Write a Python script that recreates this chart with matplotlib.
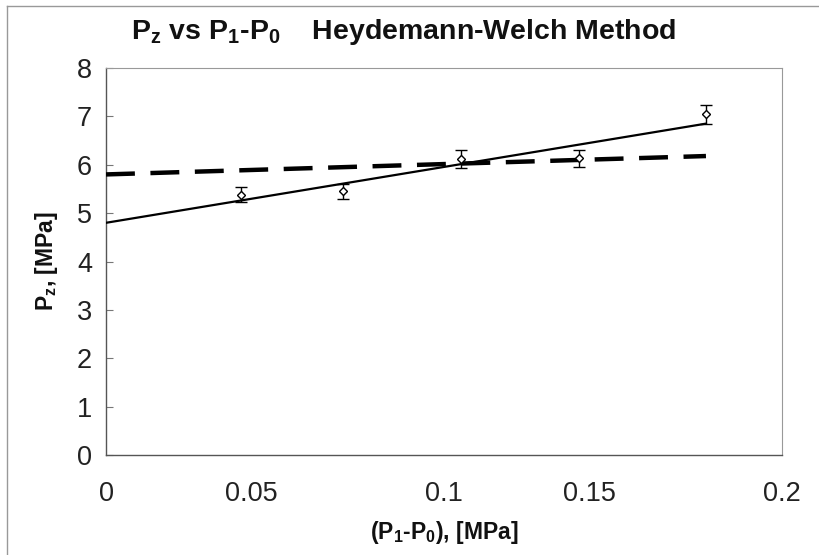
import numpy as np
import matplotlib
matplotlib.use('Agg')
import matplotlib.pyplot as plt
from matplotlib.lines import Line2D
from matplotlib.transforms import ScaledTranslation

plt.rcParams['font.family'] = ['Liberation Sans', 'DejaVu Sans']
plt.rcParams['mathtext.default'] = 'regular'

# measured points
dp = [0.040, 0.070, 0.105, 0.140, 0.1775]
pz = [5.38, 5.45, 6.12, 6.13, 7.04]
pz_err = [0.16, 0.16, 0.18, 0.18, 0.20]

# fitted lines (end points)
fit_x = [0.0, 0.1775]
fit_solid = [4.80, 6.85]
fit_dashed = [5.80, 6.18]

xticks = [0, 0.05, 0.1, 0.15, 0.2]
xticklabels = ['0', '0.05', '0.1', '0.15', '0.2']
yticks = [0, 1, 2, 3, 4, 5, 6, 7, 8]

fig = plt.figure(figsize=(8.19, 5.55), dpi=100)
ax = fig.add_axes([106 / 819, 1 - 455 / 555, 676 / 819, 387 / 555])

ax.plot(fit_x, fit_solid, color='black', lw=1.6, zorder=3)
ax.plot(fit_x, fit_dashed, color='black', lw=3.2, dashes=(6.5, 3.5), zorder=3)
ax.errorbar(dp, pz, yerr=pz_err, fmt='D', ms=4, mfc='white', mec='black',
            mew=1.0, ecolor='black', elinewidth=1.0, capsize=4, capthick=1.0,
            zorder=4)

ax.set_xlim(0, 0.2)
ax.set_ylim(0, 8)
ax.set_xticks(xticks)
ax.set_xticklabels(xticklabels)
ax.set_yticks(yticks)
ax.tick_params(axis='x', length=0, pad=19, labelsize=19.5, colors='#222222')
ax.tick_params(axis='y', direction='in', length=5, width=0.8, color='#777777',
               pad=10, labelsize=19.5, labelcolor='#222222')

# the scanned original has the 0.05 / 0.15 labels sitting left of their ticks
for lab in ax.get_xticklabels():
    if lab.get_text() in ('0.05', '0.15'):
        lab.set_transform(lab.get_transform() +
                          ScaledTranslation(-0.24, 0, fig.dpi_scale_trans))

for side in ['left', 'bottom']:
    ax.spines[side].set_color('#555555')
    ax.spines[side].set_linewidth(1.0)
for side in ['top', 'right']:
    ax.spines[side].set_color('#999999')
    ax.spines[side].set_linewidth(0.8)
    ax.spines[side].set_linestyle((0, (3, 1)))

fig.text(404 / 819, 1 - 32 / 555,
         r'P$_z$ vs P$_1$-P$_0$    Heydemann-Welch Method',
         fontsize=20.5, fontweight='bold', color='#111111',
         ha='center', va='center')
ax.set_xlabel(r'(P$_1$-P$_0$), [MPa]', fontsize=16.5, fontweight='bold',
              labelpad=8, color='#111111')
ax.set_ylabel(r'P$_z$, [MPa]', fontsize=16.5, fontweight='bold',
              labelpad=12, color='#111111')

# outer chart border (top and left visible)
fig.add_artist(Line2D([7 / 819, 1.0], [1 - 6 / 555, 1 - 6 / 555],
                      transform=fig.transFigure, color='#999999', lw=1.0))
fig.add_artist(Line2D([7 / 819, 7 / 819], [0.0, 1 - 6 / 555],
                      transform=fig.transFigure, color='#999999', lw=1.0))

fig.savefig('out.png', dpi=100)
